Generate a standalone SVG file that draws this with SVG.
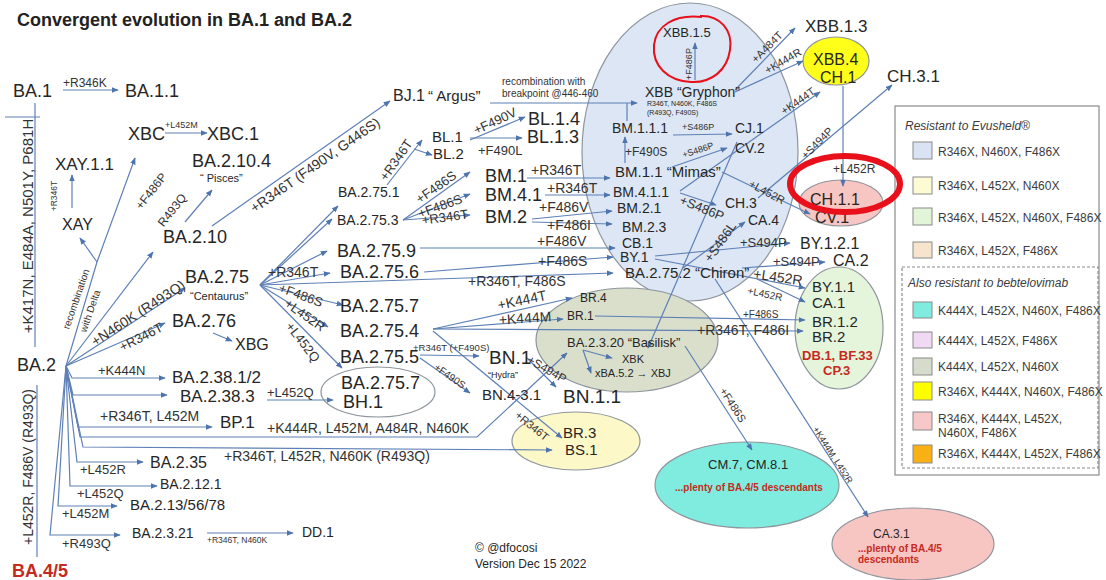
<svg xmlns="http://www.w3.org/2000/svg" width="1106" height="580" viewBox="0 0 1106 580">
<defs>
<marker id="ah" viewBox="0 0 10 10" refX="9" refY="5" markerWidth="7" markerHeight="7" markerUnits="userSpaceOnUse" orient="auto"><path d="M0,1 L10,5 L0,9 Z" fill="#4e74ae"/></marker>
<style>
text{font-family:"Liberation Sans",Arial,Helvetica,sans-serif;fill:#262626}
.c path{fill:none;stroke:#5f80b6;stroke-width:1.2}
.c .a{marker-end:url(#ah)}
.cl text{fill:#333}
.m{text-anchor:middle}
.b{font-weight:bold}
.red{fill:#c62a1e}
.it{font-style:italic}
.ell{stroke:#8e959c;stroke-width:1.2}
.sw{stroke:#8a8a8a;stroke-width:1}
.lg{font-size:12px;fill:#3c3c3c}
.rc{fill:none;stroke:#e8101a}
.f7{font-size:7px}.f8{font-size:8.5px}.f9{font-size:9px}.f95{font-size:9.5px}.f10{font-size:10px}.f11{font-size:11px}.f12{font-size:12px}.f13{font-size:13px}.f14{font-size:14px}.f15{font-size:15px}.f16{font-size:16px}.f17{font-size:17px}.f18{font-size:18px}.f19{font-size:19px}
</style>
</defs>
<rect width="1106" height="580" fill="#ffffff"/>

<g id="clusters">
<ellipse id="cl-blue" class="ell" cx="690" cy="152" rx="108" ry="149" fill="#dce6f4"/>
<ellipse id="cl-basilisk" class="ell" cx="627" cy="340" rx="91" ry="52" fill="#d9dfcb"/>
<ellipse id="cl-br3" class="ell" cx="576" cy="441" rx="64" ry="29" fill="#fdf8c8"/>
<ellipse id="cl-cm" class="ell" cx="747" cy="485" rx="92" ry="43" fill="#80ece0"/>
<ellipse id="cl-ca31" class="ell" cx="913" cy="544" rx="81" ry="36" fill="#f7c5c2"/>
<ellipse id="cl-green" class="ell" cx="839" cy="328" rx="44" ry="61" fill="#e5f5dc"/>
<ellipse id="cl-pink" class="ell" cx="841" cy="203" rx="42" ry="23" fill="#f7c5c2"/>
<ellipse id="cl-yellow" class="ell" cx="836" cy="61" rx="33" ry="24" fill="#ffff1a"/>
<ellipse id="cl-bh" class="ell" cx="378" cy="392" rx="57" ry="25" fill="#ffffff"/>
</g>

<g id="connectors" class="c">
<path class="a" d="M63,90 H118"/>
<path d="M35,103 V347"/>
<path d="M5,117 H40"/>
<path d="M37,385 V557"/>
<path class="a" d="M66,366 L97,262 L135,158"/>
<path class="a" d="M97,262 L80,238"/>
<path class="a" d="M72,208 V175"/>
<path class="a" d="M165,133 H207"/>
<path class="a" d="M66,366 L153,252"/>
<path class="a" d="M66,366 L185,288"/>
<path class="a" d="M66,366 L165,323"/>
<path class="a" d="M213,333 L232,341"/>
<path class="a" d="M66,366 L72,378 H165"/>
<path class="a" d="M66,366 L73,395 H167"/>
<path class="a" d="M267,400 H333"/>
<path class="a" d="M66,366 L78,427 H212"/>
<path class="a" d="M66,366 L80,437 H477 L567,353"/>
<path class="a" d="M66,366 L83,447 L552,450"/>
<path class="a" d="M66,366 L77,462 H143"/>
<path class="a" d="M66,366 L70,486 H157"/>
<path class="a" d="M66,366 L58,506 H117"/>
<path class="a" d="M66,366 L50,535 H120"/>
<path class="a" d="M207,533 H293"/>
<path class="a" d="M185,222 L212,190"/>
<path class="a" d="M212,226 L390,101"/>
<path class="a" d="M490,103 H637"/>
<path d="M627,121 V103"/>
<path class="a" d="M695,80 V43"/>
<path class="a" d="M260,285 L338,206"/>
<path class="a" d="M260,285 L332,219"/>
<path class="a" d="M260,285 L327,251"/>
<path class="a" d="M260,285 L330,273"/>
<path class="a" d="M260,285 L613,273"/>
<path class="a" d="M260,285 L343,305"/>
<path class="a" d="M260,285 L328,327"/>
<path class="a" d="M260,285 L342,368"/>
<path class="a" d="M387,185 L422,140"/>
<path class="a" d="M414,149 L432,155"/>
<path class="a" d="M470,140 L525,117"/>
<path class="a" d="M470,138 H522"/>
<path class="a" d="M403,220 L470,172"/>
<path class="a" d="M403,220 L470,194"/>
<path class="a" d="M403,220 L470,215"/>
<path class="a" d="M527,178 H610"/>
<path class="a" d="M545,195 H610"/>
<path class="a" d="M532,219 L612,211"/>
<path class="a" d="M532,222 L612,224"/>
<path class="a" d="M420,248 H615"/>
<path class="a" d="M424,272 L613,257"/>
<path class="a" d="M625,163 V137"/>
<path class="a" d="M673,135 L732,134"/>
<path class="a" d="M672,167 L727,148"/>
<path class="a" d="M680,191 L820,92"/>
<path class="a" d="M680,193 L716,205"/>
<path class="a" d="M722,172 L810,214"/>
<path class="a" d="M737,142 L648,348"/>
<path class="a" d="M758,198 L892,85"/>
<path class="a" d="M735,90 L795,28"/>
<path class="a" d="M735,92 L803,61"/>
<path class="a" d="M843,86 V186"/>
<path class="a" d="M683,268 L745,222"/>
<path class="a" d="M655,256 L790,243"/>
<path class="a" d="M655,259 L805,288"/>
<path class="a" d="M742,268 L825,262"/>
<path class="a" d="M757,279 L805,302"/>
<path class="a" d="M595,316 L805,320"/>
<path class="a" d="M433,329 L803,331"/>
<path class="a" d="M715,279 L868,517"/>
<path class="a" d="M433,329 L572,298"/>
<path class="a" d="M433,329 L563,319"/>
<path class="a" d="M433,331 L562,438"/>
<path class="a" d="M420,355 L479,356"/>
<path class="a" d="M420,358 L470,393"/>
<path class="a" d="M527,358 L556,387"/>
<path class="a" d="M583,350 L612,358"/>
<path class="a" d="M583,350 L591,373"/>
<path class="a" d="M685,346 L752,450"/>
</g>

<g id="connector-labels" class="cl">
<text x="63" y="87" class="f12">+R346K</text>
<text x="165" y="128" class="f9">+L452M</text>
<text class="m f8" transform="translate(54,196) rotate(-90)" dy="0.35em">+R346T</text>
<text class="m f10" transform="translate(76,299) rotate(-71)" dy="0.35em">recombination</text>
<text class="m f10" transform="translate(90,311) rotate(-71)" dy="0.35em">with Delta</text>
<text class="m f14" transform="translate(138,313) rotate(-33)" dy="0.35em">+N460K (R493Q)</text>
<text class="m f13" transform="translate(141,337) rotate(-27)" dy="0.35em">+R346T</text>
<text class="m f12" transform="translate(151,191) rotate(-52)" dy="0.35em">+F486P</text>
<text class="m f12" transform="translate(172,210) rotate(-52)" dy="0.35em">R493Q</text>
<text class="m f14" transform="translate(315,165) rotate(-35)" dy="0.35em">+R346T (F490V, G446S)</text>
<text x="98" y="375" class="f13">+K444N</text>
<text x="267" y="397" class="f13">+L452Q</text>
<text x="100" y="421" class="f14">+R346T, L452M</text>
<text x="267" y="433" class="f14">+K444R, L452M, A484R, N460K</text>
<text x="224" y="461" class="f14">+R346T, L452R, N460K (R493Q)</text>
<text x="80" y="474" class="f13">+L452R</text>
<text x="77" y="498" class="f13">+L452Q</text>
<text x="62" y="518" class="f13">+L452M</text>
<text x="62" y="548" class="f13">+R493Q</text>
<text x="207" y="543" class="f8">+R346T, N460K</text>
<text x="502" y="85" class="f10">recombination with</text>
<text x="502" y="97" class="f10">breakpoint @446-460</text>
<text class="m f9" transform="translate(689,64) rotate(-90)" dy="0.35em">+F486P</text>
<text x="268" y="277" class="f14">+R346T</text>
<text class="m f13" transform="translate(301,295) rotate(20)" dy="0.35em">+F486S</text>
<text class="m f13" transform="translate(305,315) rotate(35)" dy="0.35em">+L452R</text>
<text class="m f13" transform="translate(303,342) rotate(52)" dy="0.35em">+L452Q</text>
<text class="m f13" transform="translate(396,160) rotate(-55)" dy="0.35em">+R346T</text>
<text class="m f13" transform="translate(495,121) rotate(-25)" dy="0.35em">+F490V</text>
<text x="478" y="155" class="f13">+F490L</text>
<text class="m f13" transform="translate(436,187) rotate(-35)" dy="0.35em">+F486S</text>
<text class="m f13" transform="translate(440,206) rotate(-20)" dy="0.35em">+F486S</text>
<text class="m f13" transform="translate(445,217) rotate(-8)" dy="0.35em">+R346T</text>
<text x="531" y="175" class="f14">+R346T</text>
<text x="547" y="193" class="f14">+R346T</text>
<text x="539" y="212" class="f14">+F486V</text>
<text x="547" y="230" class="f14">+F486I</text>
<text x="537" y="246" class="f14">+F486V</text>
<text x="538" y="266" class="f14">+F486S</text>
<text x="468" y="286" class="f14">+R346T, F486S</text>
<text x="682" y="130" class="f9">+S486P</text>
<text x="625" y="156" class="f12">+F490S</text>
<text class="m f9" transform="translate(698,150) rotate(-18)" dy="0.35em">+S486P</text>
<text class="m f13" transform="translate(702,208) rotate(22)" dy="0.35em">+S486P</text>
<text class="m f13" transform="translate(720,242) rotate(-55)" dy="0.35em">+S486L</text>
<text class="m f11" transform="translate(767,192) rotate(28)" dy="0.35em">+L452R</text>
<text class="m f11" transform="translate(767,47) rotate(-45)" dy="0.35em">+A484T</text>
<text class="m f11" transform="translate(783,61) rotate(-30)" dy="0.35em">+K444R</text>
<text class="m f11" transform="translate(798,101) rotate(-35)" dy="0.35em">+K444T</text>
<text class="m f11" transform="translate(817,143) rotate(-45)" dy="0.35em">+S494P</text>
<text x="833" y="173" class="f12">+L452R</text>
<text x="740" y="247" class="f13">+S494P</text>
<text x="773" y="266" class="f13">+S494P</text>
<text class="m f14" transform="translate(778,277) rotate(8)" dy="0.35em">+L452R</text>
<text class="m f10" transform="translate(765,294) rotate(12)" dy="0.35em">+L452R</text>
<text x="743" y="318" class="f10">+F486S</text>
<text x="697" y="335" class="f14">+R346T, F486I</text>
<text class="m f14" transform="translate(522,300) rotate(-12)" dy="0.35em">+K444T</text>
<text class="m f14" transform="translate(525,318) rotate(-4)" dy="0.35em">+K444M</text>
<text class="m f11" transform="translate(532,426) rotate(39)" dy="0.35em">+R346T</text>
<text x="413" y="351" class="f95">+R346T (+F490S)</text>
<text class="m f10" transform="translate(450,376) rotate(35)" dy="0.35em">+F490S</text>
<text class="m f12" transform="translate(547,369) rotate(30)" dy="0.35em">+S494P</text>
<text class="m f11" transform="translate(733,405) rotate(57)" dy="0.35em">+F486S</text>
<text class="m f9" transform="translate(833,455) rotate(57)" dy="0.35em">+K444M, L452R</text>
<text class="m f15" transform="translate(33,226) rotate(-90)">+K417N, E484A, N501Y, P681H</text>
<text class="m f14" transform="translate(33,467) rotate(-90)">+L452R, F486V (R493Q)</text>
</g>

<g id="title"><text x="17" y="26" class="b f18" style="fill:#222">Convergent evolution in BA.1 and BA.2</text></g>

<g id="n-BA1"><text x="13" y="97" class="f18">BA.1</text></g>
<g id="n-BA11"><text x="125" y="97" class="f18">BA.1.1</text></g>
<g id="n-XBC"><text x="128" y="140" class="f18">XBC</text></g>
<g id="n-XBC1"><text x="207" y="140" class="f18">XBC.1</text></g>
<g id="n-XAY11"><text x="55" y="170" class="f17">XAY.1.1</text></g>
<g id="n-XAY"><text x="62" y="230" class="f16">XAY</text></g>
<g id="n-BA2104"><text x="192" y="167" class="f18">BA.2.10.4</text><text x="200" y="182" class="f11">“ Pisces”</text></g>
<g id="n-BA210"><text x="163" y="243" class="f18">BA.2.10</text></g>
<g id="n-BA2"><text x="17" y="371" class="f18">BA.2</text></g>
<g id="n-BA45"><text x="12" y="577" class="f18 b red">BA.4/5</text></g>
<g id="n-BA275"><text x="185" y="283" class="f18">BA.2.75</text><text x="190" y="300" class="f11">“Centaurus”</text></g>
<g id="n-BA276"><text x="172" y="327" class="f18">BA.2.76</text></g>
<g id="n-XBG"><text x="235" y="350" class="f16">XBG</text></g>
<g id="n-BA23812"><text x="172" y="383" class="f17">BA.2.38.1/2</text></g>
<g id="n-BA2383"><text x="180" y="402" class="f17">BA.2.38.3</text></g>
<g id="n-BP1"><text x="220" y="428" class="f17">BP.1</text></g>
<g id="n-BA235"><text x="150" y="468" class="f16">BA.2.35</text></g>
<g id="n-BA2121"><text x="160" y="489" class="f14">BA.2.12.1</text></g>
<g id="n-BA213"><text x="130" y="510" class="f15">BA.2.13/56/78</text></g>
<g id="n-BA2321"><text x="132" y="538" class="f14">BA.2.3.21</text></g>
<g id="n-DD1"><text x="302" y="537" class="f14">DD.1</text></g>
<g id="n-BJ1"><text x="393" y="101" class="f16">BJ.1</text><text x="428" y="101" class="f15">“ Argus”</text></g>
<g id="n-BA2751"><text x="338" y="197" class="f14">BA.2.75.1</text></g>
<g id="n-BA2753"><text x="337" y="225" class="f14">BA.2.75.3</text></g>
<g id="n-BA2759"><text x="337" y="257" class="f18">BA.2.75.9</text></g>
<g id="n-BA2756"><text x="340" y="278" class="f18">BA.2.75.6</text></g>
<g id="n-BA2757"><text x="340" y="312" class="f18">BA.2.75.7</text></g>
<g id="n-BA2754"><text x="340" y="337" class="f18">BA.2.75.4</text></g>
<g id="n-BA2755"><text x="340" y="363" class="f18">BA.2.75.5</text></g>
<g id="n-BH1"><text x="341" y="389" class="f18">BA.2.75.7</text><text x="343" y="408" class="f18">BH.1</text></g>
<g id="n-BL1"><text x="432" y="142" class="f15">BL.1</text></g>
<g id="n-BL2"><text x="433" y="159" class="f15">BL.2</text></g>
<g id="n-BL14"><text x="528" y="125" class="f18">BL.1.4</text></g>
<g id="n-BL13"><text x="527" y="143" class="f18">BL.1.3</text></g>
<g id="n-BM1"><text x="485" y="182" class="f18">BM.1</text></g>
<g id="n-BM41"><text x="485" y="201" class="f18">BM.4.1</text></g>
<g id="n-BM2"><text x="485" y="223" class="f18">BM.2</text></g>
<g id="n-XBB"><text x="645" y="97" class="f14">XBB “Gryphon”</text><text x="647" y="106" class="f7">R346T, N460K, F486S</text><text x="647" y="115" class="f7">(R493Q, F490S)</text></g>
<g id="n-XBB15"><text x="663" y="37" class="f13">XBB.1.5</text></g>
<g id="n-BM111"><text x="612" y="133" class="f14">BM.1.1.1</text></g>
<g id="n-CJ1"><text x="735" y="133" class="f14">CJ.1</text></g>
<g id="n-CV2"><text x="735" y="153" class="f14">CV.2</text></g>
<g id="n-BM11"><text x="615" y="177" class="f15">BM.1.1 “Mimas”</text></g>
<g id="n-BM411"><text x="613" y="197" class="f14">BM.4.1.1</text></g>
<g id="n-BM21"><text x="617" y="213" class="f14">BM.2.1</text></g>
<g id="n-BM23"><text x="622" y="232" class="f14">BM.2.3</text></g>
<g id="n-CB1"><text x="622" y="248" class="f14">CB.1</text></g>
<g id="n-BY1"><text x="620" y="262" class="f14">BY.1</text></g>
<g id="n-BA2752"><text x="625" y="278" class="f15">BA.2.75.2 “Chiron”</text></g>
<g id="n-CH3"><text x="725" y="208" class="f14">CH.3</text></g>
<g id="n-CA4"><text x="748" y="225" class="f14">CA.4</text></g>
<g id="n-XBB13"><text x="805" y="32" class="f17">XBB.1.3</text></g>
<g id="n-XBB4"><text x="813" y="65" class="f16">XBB.4</text><text x="820" y="83" class="f16">CH.1</text></g>
<g id="n-CH31"><text x="887" y="82" class="f17">CH.3.1</text></g>
<g id="n-CH11"><text x="810" y="205" class="f16">CH.1.1</text><text x="815" y="223" class="f16">CV.1</text></g>
<g id="n-BY121"><text x="800" y="249" class="f16">BY.1.2.1</text></g>
<g id="n-CA2"><text x="833" y="266" class="f16">CA.2</text></g>
<g id="n-BY11"><text x="812" y="292" class="f15">BY.1.1</text></g>
<g id="n-CA1"><text x="812" y="308" class="f15">CA.1</text></g>
<g id="n-BR12"><text x="812" y="327" class="f15">BR.1.2</text></g>
<g id="n-BR2"><text x="812" y="342" class="f15">BR.2</text></g>
<g id="n-DB1"><text x="802" y="360" class="f13 b red">DB.1, BF.33</text><text x="823" y="375" class="f13 b red">CP.3</text></g>
<g id="n-BA2320"><text x="567" y="347" class="f13">BA.2.3.20 “Basilisk”</text></g>
<g id="n-XBK"><text x="622" y="363" class="f11">XBK</text></g>
<g id="n-XBJ"><text x="595" y="377" class="f11">xBA.5.2 → XBJ</text></g>
<g id="n-BR4"><text x="580" y="302" class="f12">BR.4</text></g>
<g id="n-BR1"><text x="567" y="320" class="f12">BR.1</text></g>
<g id="n-BN1"><text x="489" y="364" class="f19">BN.1</text><text x="488" y="378" class="f9">“Hydra”</text></g>
<g id="n-BN431"><text x="482" y="400" class="f15">BN.4-3.1</text></g>
<g id="n-BN11"><text x="563" y="403" class="f19">BN.1.1</text></g>
<g id="n-BR3"><text x="563" y="438" class="f15">BR.3</text><text x="565" y="455" class="f15">BS.1</text></g>
<g id="n-CM7"><text x="708" y="469" class="f13">CM.7, CM.8.1</text><text x="675" y="491" class="f10 b red">...plenty of BA.4/5 descendants</text></g>
<g id="n-CA31"><text x="873" y="538" class="f12">CA.3.1</text><text x="858" y="552" class="f10 b red">...plenty of BA.4/5</text><text x="858" y="563" class="f10 b red">descendants</text></g>
<g id="credit"><text x="475" y="552" class="f12">©  @dfocosi</text><text x="475" y="568" class="f12">Version Dec 15 2022</text></g>

<g id="legend">
<rect x="895" y="106" width="204" height="369" fill="#ffffff" stroke="#8a8a8a" stroke-width="1.2"/>
<rect x="902" y="267" width="196" height="201" fill="none" stroke="#8a8a8a" stroke-width="1.2" stroke-dasharray="3,2"/>
<text x="905" y="130" class="lg it">Resistant to Evusheld®</text>
<rect class="sw" x="913" y="142" width="19" height="17" fill="#dae3f3"/><text x="938" y="156" class="lg">R346X, N460X, F486X</text>
<rect class="sw" x="913" y="177" width="19" height="17" fill="#fdfbd4"/><text x="938" y="190" class="lg">R346X, L452X, N460X</text>
<rect class="sw" x="913" y="208" width="19" height="17" fill="#e2f5d8"/><text x="938" y="222" class="lg">R346X, L452X, N460X, F486X</text>
<rect class="sw" x="913" y="242" width="19" height="16" fill="#f6e4cc"/><text x="938" y="255" class="lg">R346X, L452X, F486X</text>
<text x="908" y="287" class="lg it">Also resistant to bebtelovimab</text>
<rect class="sw" x="913" y="302" width="19" height="16" fill="#80ece0"/><text x="938" y="315" class="lg">K444X, L452X, N460X, F486X</text>
<rect class="sw" x="913" y="332" width="19" height="16" fill="#efd9f3"/><text x="938" y="345" class="lg">K444X, L452X, F486X</text>
<rect class="sw" x="913" y="358" width="19" height="17" fill="#d5dccb"/><text x="938" y="371" class="lg">K444X, L452X, N460X</text>
<rect class="sw" x="913" y="382" width="19" height="18" fill="#ffff00"/><text x="938" y="396" class="lg">R346X, K444X, N460X, F486X</text>
<rect class="sw" x="913" y="412" width="19" height="18" fill="#f7c8c8"/><text x="938" y="423" class="lg">R346X, K444X, L452X,</text><text x="938" y="437" class="lg">N460X, F486X</text>
<rect class="sw" x="913" y="445" width="19" height="18" fill="#f9b014"/><text x="938" y="458" class="lg">R346X, K444X, L452X, F486X</text>
</g>

<g id="highlights">
<path class="rc" stroke-width="2" d="M700,16 C720,15 733,30 730,50 C727,70 712,83 691,82 C668,81 652,66 654,45 C656,26 674,14 702,17"/>
<ellipse class="rc" stroke-width="6" cx="845" cy="184" rx="55" ry="28"/>
</g>
</svg>
